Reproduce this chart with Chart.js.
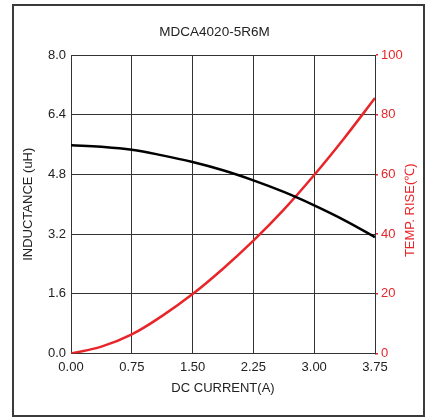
<!DOCTYPE html>
<html>
<head>
<meta charset="utf-8">
<script src="https://cdn.jsdelivr.net/npm/chart.js@4.4.0/dist/chart.umd.min.js"></script>
<style>
  html, body { margin: 0; padding: 0; background: #fff; }
  #wrap { position: relative; width: 429px; height: 419px; }
  #frame { position: absolute; left: 12px; top: 4px; width: 409px; height: 409px; border: 2px solid #3a3a3a; }
  #chart { position: absolute; left: 0; top: 0; }
</style>
</head>
<body>
<div id="wrap">
  <div id="frame"></div>
  <canvas id="chart" width="429" height="419"></canvas>
</div>
<script>
// --- Data ---
const currents = [0, 0.375, 0.75, 1.125, 1.5, 1.875, 2.25, 2.625, 3.0, 3.375, 3.75];
const inductance = [5.58, 5.54, 5.46, 5.31, 5.13, 4.91, 4.64, 4.33, 3.97, 3.57, 3.12];
const tempRise = [0, 2.3, 6.4, 12.6, 19.9, 28.4, 37.8, 48.2, 59.8, 72.3, 85.6];
const xTicks = [0, 0.75, 1.5, 2.25, 3.0, 3.75];
const yTicks = [0, 1.6, 3.2, 4.8, 6.4, 8.0];
const y2Ticks = [0, 20, 40, 60, 80, 100];

const RED = '#e8262a';
const INK = '#222';
const FONT = 'Liberation Sans, Arial, sans-serif';

// right axis title reads bottom-to-top like the left one
const rightTitle = {
    id: 'rightTitle',
    afterDraw(chart) {
        const { ctx, chartArea } = chart;
        ctx.save();
        ctx.translate(410, (chartArea.top + chartArea.bottom) / 2 + 6);
        ctx.rotate(-Math.PI / 2);
        ctx.fillStyle = RED;
        ctx.font = '13px ' + FONT;
        ctx.textAlign = 'center';
        ctx.textBaseline = 'middle';
        ctx.fillText('TEMP. RISE(\u2103)', 0, 0);
        ctx.restore();
    }
};

new Chart(document.getElementById('chart'), {
    type: 'scatter',
    data: {
        datasets: [{
            label: 'Inductance',
            data: currents.map((x, i) => ({ x, y: inductance[i] })),
            yAxisID: 'y',
            showLine: true,
            borderColor: '#000',
            borderWidth: 2.5,
            pointRadius: 0,
            tension: 0.4
        }, {
            label: 'Temp rise',
            data: currents.map((x, i) => ({ x, y: tempRise[i] })),
            yAxisID: 'y2',
            showLine: true,
            borderColor: RED,
            borderWidth: 2.5,
            pointRadius: 0,
            tension: 0.4
        }]
    },
    options: {
        responsive: false,
        animation: false,
        layout: { padding: 0 },
        plugins: {
            legend: { display: false },
            tooltip: { enabled: false },
            title: {
                display: true,
                text: 'MDCA4020-5R6M',
                color: INK,
                font: { family: FONT, size: 13.5, weight: 'normal' },
                padding: { top: 24, bottom: 14.8 }
            }
        },
        scales: {
            x: {
                type: 'linear',
                min: 0, max: 3.75,
                afterBuildTicks: s => { s.ticks = xTicks.map(v => ({ value: v })); },
                afterFit: s => { s.height = 65.5; },
                grid: { color: '#333', lineWidth: 1, drawTicks: false },
                border: { color: '#333', width: 1 },
                ticks: {
                    color: INK, padding: 6,
                    font: { family: FONT, size: 13 },
                    callback: v => v.toFixed(2)
                },
                title: {
                    display: true, text: 'DC CURRENT(A)', color: INK,
                    font: { family: FONT, size: 13 },
                    padding: { top: 0, bottom: 22.8 }
                }
            },
            y: {
                position: 'left',
                min: 0, max: 8,
                afterBuildTicks: s => { s.ticks = yTicks.map(v => ({ value: v })); },
                afterFit: s => { s.width = 71; },
                grid: { color: '#333', lineWidth: 1, drawTicks: false },
                border: { color: '#333', width: 1 },
                ticks: {
                    color: INK, padding: 5,
                    font: { family: FONT, size: 13 },
                    callback: v => v.toFixed(1)
                },
                title: {
                    display: true, text: 'INDUCTANCE (uH)', color: INK,
                    font: { family: FONT, size: 13 },
                    padding: { top: 20.3, bottom: 0 }
                }
            },
            y2: {
                position: 'right',
                min: 0, max: 100,
                afterBuildTicks: s => { s.ticks = y2Ticks.map(v => ({ value: v })); },
                afterFit: s => { s.width = 54; },
                grid: { drawOnChartArea: false, color: RED, tickLength: 3, lineWidth: 1.5 },
                border: { color: '#333', width: 1 },
                ticks: {
                    color: RED, padding: 3,
                    font: { family: FONT, size: 13 }
                }
            }
        }
    },
    plugins: [rightTitle]
});
</script>
</body>
</html>
